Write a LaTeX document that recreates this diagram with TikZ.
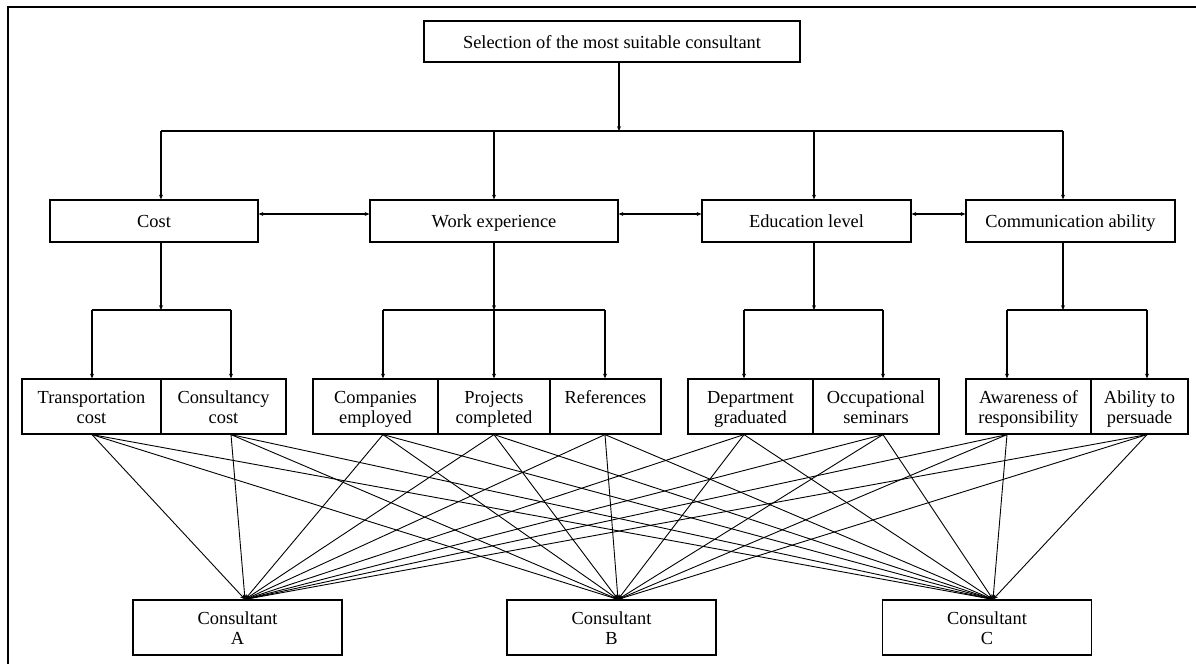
\documentclass[tikz,border=0pt]{standalone}
\usepackage{fontspec}
\setmainfont{Liberation Serif}
\usetikzlibrary{arrows.meta}
\newcommand{\boxtopstrut}{\rule{0pt}{8.5pt}}
\newcommand{\boxbotstrut}{\rule[-2pt]{0pt}{2pt}}
\begin{document}
\begin{tikzpicture}[x=0.5pt,y=-0.5pt,>={Stealth[length=2.4pt,width=2pt]},line width=0.6pt]
\tikzstyle{every node}+=[inner sep=0pt,font=\fontsize{9.2}{10}\selectfont,align=center,execute at begin node=\boxtopstrut,execute at end node=\boxbotstrut]
\tikzstyle{box}=[draw,line width=0.6pt]
\tikzstyle{crit}=[box,minimum height=21pt]
\tikzstyle{sub}=[box,minimum height=27.5pt,text height=18.5pt,text depth=2pt]
\tikzstyle{alt}=[sub,minimum width=104.5pt]
\tikzstyle{link}=[->,line width=0.45pt]
\useasboundingbox (0,0) rectangle (1196,664);
\draw [line width=1.1pt] (8,680) -- (8,7) -- (1210,7);
\node [box,minimum width=188pt,minimum height=20.5pt] (goal) at (612,41.5) {Selection of the most suitable consultant};
\node [crit,minimum width=104pt] (cost) at (154,221) {Cost};
\node [crit,minimum width=124pt] (work) at (494,221) {Work experience};
\node [crit,minimum width=104.5pt] (edu) at (806.5,221) {Education level};
\node [crit,minimum width=104.5pt] (comm) at (1070.5,221) {Communication ability};
\node [sub,minimum width=69.5pt] (trans) at (91.5,406.5) {Transportation\\cost};
\node [sub,minimum width=62.5pt] (consc) at (223.5,406.5) {Consultancy\\cost};
\node [sub,minimum width=62.5pt] (comp) at (375.5,406.5) {Companies\\employed};
\node [sub,minimum width=56pt] (proj) at (494,406.5) {Projects\\completed};
\node [sub,minimum width=55.5pt] (refs) at (605.5,406.5) {References\\\phantom{x}};
\node [sub,minimum width=62.5pt] (dept) at (750.5,406.5) {Department\\graduated};
\node [sub,minimum width=63pt] (occ) at (876,406.5) {Occupational\\seminars};
\node [sub,minimum width=62.5pt] (aware) at (1028.5,406.5) {Awareness of\\responsibility};
\node [sub,minimum width=48.5pt] (abil) at (1139.5,406.5) {Ability to\\persuade};
\node [alt] (ca) at (237.5,627.5) {Consultant\\A};
\node [alt] (cb) at (611.5,627.5) {Consultant\\B};
\node [alt] (cc) at (987,627.5) {Consultant\\C};
\coordinate (j0) at (619,131);
\coordinate (c1) at (161,131);
\coordinate (c2) at (494,131);
\coordinate (c3) at (814,131);
\coordinate (c4) at (1063,131);
\draw [->] (goal.south -| j0) -- (j0);
\draw (c1) -- (c4);
\draw [->] (c1) -- (c1 |- cost.north);
\draw [->] (c2) -- (c2 |- work.north);
\draw [->] (c3) -- (c3 |- edu.north);
\draw [->] (c4) -- (c4 |- comm.north);
\coordinate (h) at (0,214);
\draw [<->] (cost.east |- h) -- (work.west |- h);
\draw [<->] (work.east |- h) -- (edu.west |- h);
\draw [<->] (edu.east |- h) -- (comm.west |- h);
\coordinate (k1) at (161,310);
\coordinate (k2) at (494,310);
\coordinate (k3) at (814,310);
\coordinate (k4) at (1063,310);
\coordinate (d1) at (92,310);
\coordinate (d2) at (231,310);
\coordinate (d3) at (383,310);
\coordinate (d4) at (494,310);
\coordinate (d5) at (605,310);
\coordinate (d6) at (744,310);
\coordinate (d7) at (883,310);
\coordinate (d8) at (1007,310);
\coordinate (d9) at (1147,310);
\draw [->] (k1 |- cost.south) -- (k1);
\draw [->] (k2 |- work.south) -- (k2);
\draw [->] (k3 |- edu.south) -- (k3);
\draw [->] (k4 |- comm.south) -- (k4);
\draw (d1) -- (d2);
\draw (d3) -- (d5);
\draw (d6) -- (d7);
\draw (d8) -- (d9);
\draw [->] (d1) -- (d1 |- trans.north);
\draw [->] (d2) -- (d2 |- consc.north);
\draw [->] (d3) -- (d3 |- comp.north);
\draw [->] (d4) -- (d4 |- proj.north);
\draw [->] (d5) -- (d5 |- refs.north);
\draw [->] (d6) -- (d6 |- dept.north);
\draw [->] (d7) -- (d7 |- occ.north);
\draw [->] (d8) -- (d8 |- aware.north);
\draw [->] (d9) -- (d9 |- abil.north);
\coordinate (s1) at (d1 |- trans.south);
\coordinate (s2) at (d2 |- consc.south);
\coordinate (s3) at (d3 |- comp.south);
\coordinate (s4) at (d4 |- proj.south);
\coordinate (s5) at (d5 |- refs.south);
\coordinate (s6) at (d6 |- dept.south);
\coordinate (s7) at (d7 |- occ.south);
\coordinate (s8) at (d8 |- aware.south);
\coordinate (s9) at (d9 |- abil.south);
\coordinate (ta) at (245,0 |- ca.north);
\coordinate (tb) at (618,0 |- cb.north);
\coordinate (tc) at (993,0 |- cc.north);
\draw [link] (s1) -- (ta); \draw [link] (s1) -- (tb); \draw [link] (s1) -- (tc);
\draw [link] (s2) -- (ta); \draw [link] (s2) -- (tb); \draw [link] (s2) -- (tc);
\draw [link] (s3) -- (ta); \draw [link] (s3) -- (tb); \draw [link] (s3) -- (tc);
\draw [link] (s4) -- (ta); \draw [link] (s4) -- (tb); \draw [link] (s4) -- (tc);
\draw [link] (s5) -- (ta); \draw [link] (s5) -- (tb); \draw [link] (s5) -- (tc);
\draw [link] (s6) -- (ta); \draw [link] (s6) -- (tb); \draw [link] (s6) -- (tc);
\draw [link] (s7) -- (ta); \draw [link] (s7) -- (tb); \draw [link] (s7) -- (tc);
\draw [link] (s8) -- (ta); \draw [link] (s8) -- (tb); \draw [link] (s8) -- (tc);
\draw [link] (s9) -- (ta); \draw [link] (s9) -- (tb); \draw [link] (s9) -- (tc);
\end{tikzpicture}
\end{document}
